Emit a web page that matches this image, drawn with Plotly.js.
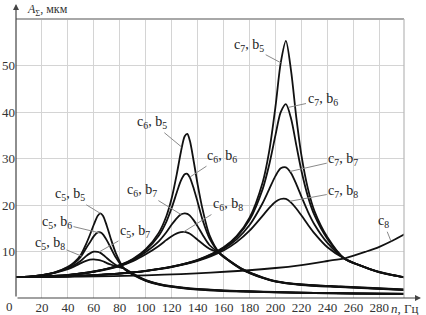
<!DOCTYPE html>
<html>
<head>
<meta charset="utf-8">
<script src="https://cdn.plot.ly/plotly-3.0.1.min.js"></script>
<style>html,body{margin:0;padding:0;background:#fff;}#chart{width:426px;height:315px;}</style>
</head>
<body>
<div id="chart"></div>
<script>
// ---- data ----
const xTicks = [20, 40, 60, 80, 100, 120, 140, 160, 180, 200, 220, 240, 260, 280];
const yTicks = [10, 20, 30, 40, 50];

const nC5  = [0, 10, 20, 30, 40, 45, 50, 54, 57, 60, 63, 65, 67, 70, 73, 77, 83, 90, 100, 110, 120, 140, 160, 180, 200, 230, 260, 300];
const c5b5 = [4.5, 4.6, 4.9, 5.5, 6.7, 7.7, 9.3, 11.6, 13.6, 15.8, 17.7, 18.2, 17.7, 15.5, 12.8, 9.6, 6.4, 5.0, 3.7, 2.9, 2.4, 1.8, 1.5, 1.35, 1.2, 1.05, 0.95, 0.85];
const c5b6 = [4.5, 4.6, 4.9, 5.5, 6.6, 7.5, 8.9, 10.7, 12.0, 13.3, 14.1, 14.1, 13.7, 12.4, 10.8, 8.7, 6.4, 5.1, 3.75, 2.95, 2.45, 1.85, 1.55, 1.38, 1.23, 1.08, 0.97, 0.88];
const c5b7 = [4.5, 4.6, 4.9, 5.45, 6.4, 7.1, 8.0, 9.0, 9.6, 9.95, 9.9, 9.7, 9.3, 8.6, 7.9, 7.1, 6.4, 5.2, 3.8, 3.0, 2.5, 1.9, 1.6, 1.4, 1.25, 1.1, 0.98, 0.9];
const c5b8 = [4.5, 4.6, 4.85, 5.4, 6.2, 6.8, 7.5, 8.0, 8.25, 8.3, 8.2, 8.1, 7.9, 7.5, 7.2, 6.8, 6.4, 5.25, 3.85, 3.05, 2.55, 1.95, 1.65, 1.45, 1.3, 1.12, 1.0, 0.92];

const nC6  = [0, 20, 40, 60, 80, 90, 100, 110, 116, 120, 124, 127, 130, 132, 134, 137, 140, 144, 149, 157, 165, 175, 190, 200, 220, 250, 275, 300];
const c6b5 = [4.5, 4.61, 4.95, 5.7, 7.1, 8.4, 10.5, 14.0, 17.7, 21.5, 26.8, 31.3, 34.8, 35.3, 33.8, 29.3, 24.4, 18.8, 13.6, 9.6, 7.8, 6.0, 4.3, 3.5, 2.8, 2.35, 2.0, 1.7];
const c6b6 = [4.5, 4.61, 4.95, 5.7, 7.05, 8.3, 10.3, 13.4, 16.5, 19.4, 22.8, 25.2, 26.6, 26.7, 25.9, 23.5, 20.6, 16.6, 12.9, 9.6, 7.85, 6.05, 4.35, 3.55, 2.85, 2.4, 2.05, 1.75];
const c6b7 = [4.5, 4.6, 4.93, 5.65, 6.95, 8.1, 9.9, 12.2, 14.2, 15.8, 17.2, 17.95, 18.2, 18.1, 17.7, 16.7, 15.4, 13.5, 11.4, 9.6, 7.9, 6.1, 4.4, 3.6, 2.9, 2.45, 2.1, 1.8];
const c6b8 = [4.5, 4.6, 4.92, 5.6, 6.85, 7.9, 9.4, 11.2, 12.5, 13.3, 13.9, 14.15, 14.2, 14.05, 13.8, 13.2, 12.5, 11.6, 10.6, 9.6, 7.95, 6.15, 4.45, 3.65, 2.95, 2.5, 2.15, 1.85];

const nC7  = [0, 20, 40, 60, 80, 100, 120, 140, 160, 170, 180, 190, 195, 200, 204, 208, 212, 216, 220, 225, 230, 240, 253, 265, 280, 290, 300];
const c7b5 = [4.5, 4.54, 4.67, 4.91, 5.28, 5.85, 6.74, 8.19, 10.89, 13.29, 17.25, 24.77, 31.36, 41.25, 50.56, 55.3, 48.8, 38.86, 30.61, 23.46, 18.7, 13.06, 8.5, 7.0, 5.5, 4.9, 4.4];
const c7b6 = [4.5, 4.54, 4.67, 4.91, 5.28, 5.85, 6.73, 8.15, 10.8, 13.1, 16.8, 23.35, 28.5, 35.07, 39.96, 41.7, 38.56, 32.89, 27.32, 21.8, 17.8, 12.7, 8.5, 7.0, 5.55, 4.92, 4.42];
const c7b7 = [4.5, 4.54, 4.66, 4.9, 5.26, 5.83, 6.7, 8.07, 10.55, 12.61, 15.69, 20.38, 23.33, 26.27, 27.88, 28.1, 26.85, 24.5, 21.77, 18.54, 15.82, 11.86, 8.5, 7.02, 5.57, 4.94, 4.44];
const c7b8 = [4.5, 4.54, 4.66, 4.88, 5.24, 5.8, 6.63, 7.96, 10.23, 12.02, 14.47, 17.66, 19.33, 20.71, 21.29, 21.3, 20.5, 19.25, 17.74, 15.76, 13.91, 10.92, 8.5, 7.05, 5.6, 4.96, 4.46];

const nC8 = [0, 50, 100, 150, 200, 220, 240, 254, 270, 280, 290, 300];
const c8  = [4.5, 4.59, 4.87, 5.45, 6.45, 7.09, 7.96, 8.6, 10.0, 11.0, 12.3, 13.8];

// ---- label text and placement (curve annotations) ----
const curveLabels = [
  {t: 'c<sub>5</sub>, b<sub>5</sub>', x: 65,   y: 18.2, tx: 41.6, ty: 22.2},
  {t: 'c<sub>5</sub>, b<sub>6</sub>', x: 64.5, y: 14.0, tx: 31.6, ty: 16.2},
  {t: 'c<sub>5</sub>, b<sub>8</sub>', x: 50.6, y: 9.0,  tx: 26.2, ty: 11.8},
  {t: 'c<sub>5</sub>, b<sub>7</sub>', x: 64,   y: 9.9,  tx: 91.7, ty: 14.3},
  {t: 'c<sub>6</sub>, b<sub>5</sub>', x: 127.5,y: 32.5, tx: 105,  ty: 37.7},
  {t: 'c<sub>6</sub>, b<sub>6</sub>', x: 134,  y: 26.0, tx: 158.5,ty: 30.5},
  {t: 'c<sub>6</sub>, b<sub>7</sub>', x: 127.5,y: 17.9, tx: 97.2, ty: 23.1},
  {t: 'c<sub>6</sub>, b<sub>8</sub>', x: 129,  y: 14.2, tx: 163,  ty: 20.1},
  {t: 'c<sub>7</sub>, b<sub>5</sub>', x: 204,  y: 50.6, tx: 179.7,ty: 54.2},
  {t: 'c<sub>7</sub>, b<sub>6</sub>', x: 210,  y: 41.0, tx: 236.2,ty: 42.6},
  {t: 'c<sub>7</sub>, b<sub>7</sub>', x: 211,  y: 27.2, tx: 252.2,ty: 29.8},
  {t: 'c<sub>7</sub>, b<sub>8</sub>', x: 211,  y: 20.8, tx: 252.2,ty: 22.9},
  {t: 'c<sub>8</sub>',                x: 289,  y: 12.2, tx: 283,  ty: 16.4}
];

const FONT = 'Liberation Serif';
const lineStyle = {color: '#111', width: 1.8, shape: 'spline', smoothing: 0.8};

const series = [
  [nC5, c5b5], [nC5, c5b6], [nC5, c5b7], [nC5, c5b8],
  [nC6, c6b5], [nC6, c6b6], [nC6, c6b7], [nC6, c6b8],
  [nC7, c7b5], [nC7, c7b6], [nC7, c7b7], [nC7, c7b8],
  [nC8, c8]
];
const traces = series.map(s => ({
  x: s[0], y: s[1], type: 'scatter', mode: 'lines',
  line: lineStyle, hoverinfo: 'skip', showlegend: false
}));

const annotations = curveLabels.map(l => ({
  x: l.x, y: l.y, xref: 'x', yref: 'y',
  ax: l.tx, ay: l.ty, axref: 'x', ayref: 'y',
  text: l.t, showarrow: true, arrowhead: 0, arrowwidth: 1,
  arrowcolor: '#8a8a8a', standoff: 0, startstandoff: 0,
  font: {family: FONT, size: 14, color: '#222'}
}));

// axis arrows
annotations.push({x: 1.0438, y: 0, xref: 'paper', yref: 'paper', ax: -405, ay: 0,
  text: '', showarrow: true, arrowhead: 2, arrowsize: 1, arrowwidth: 1.2, arrowcolor: '#444', standoff: 0});
annotations.push({x: 0, y: 1.054, xref: 'paper', yref: 'paper', ax: 0, ay: 294,
  text: '', showarrow: true, arrowhead: 2, arrowsize: 1, arrowwidth: 1.2, arrowcolor: '#444', standoff: 0});
// origin label and axis titles
annotations.push({x: -0.0155, y: -0.032, xref: 'paper', yref: 'paper', text: '0', showarrow: false,
  xanchor: 'center', yanchor: 'middle', font: {family: FONT, size: 13, color: '#333'}});
annotations.push({x: 0.023, y: 1.032, xref: 'paper', yref: 'paper', text: '<i>A</i><sub>Σ</sub>, мкм', showarrow: false,
  xanchor: 'left', yanchor: 'middle', font: {family: FONT, size: 12, color: '#333'}});
annotations.push({x: 0.962, y: -0.036, xref: 'paper', yref: 'paper', text: '<i>n</i>, Гц', showarrow: false,
  xanchor: 'left', yanchor: 'middle', font: {family: FONT, size: 13, color: '#333'}});

const layout = {
  width: 426, height: 315,
  font: {family: FONT, size: 13, color: '#333'},
  margin: {l: 16, r: 22, t: 19, b: 17, pad: 0},
  paper_bgcolor: '#fff', plot_bgcolor: '#fff',
  showlegend: false,
  xaxis: {range: [0, 299], tickvals: xTicks, ticktext: xTicks.map(String), showgrid: true,
    gridcolor: '#d4d4d4', gridwidth: 1, zeroline: false, showline: false, ticks: '',
    tickfont: {family: FONT, size: 13, color: '#333'}, fixedrange: true},
  yaxis: {range: [0, 60], tickvals: yTicks, ticktext: yTicks.map(String), showgrid: true,
    gridcolor: '#d4d4d4', gridwidth: 1, zeroline: false, showline: false, ticks: '',
    tickfont: {family: FONT, size: 13, color: '#333'}, fixedrange: true},
  shapes: [
    {type: 'line', xref: 'paper', yref: 'paper', x0: 0, x1: 1, y0: 1, y1: 1, line: {color: '#a8a8a8', width: 2}},
    {type: 'line', xref: 'paper', yref: 'paper', x0: 1, x1: 1, y0: 0, y1: 1, line: {color: '#b8b8b8', width: 1.2}}
  ],
  annotations: annotations
};

Plotly.newPlot('chart', traces, layout, {displayModeBar: false, staticPlot: true});
</script>
</body>
</html>
